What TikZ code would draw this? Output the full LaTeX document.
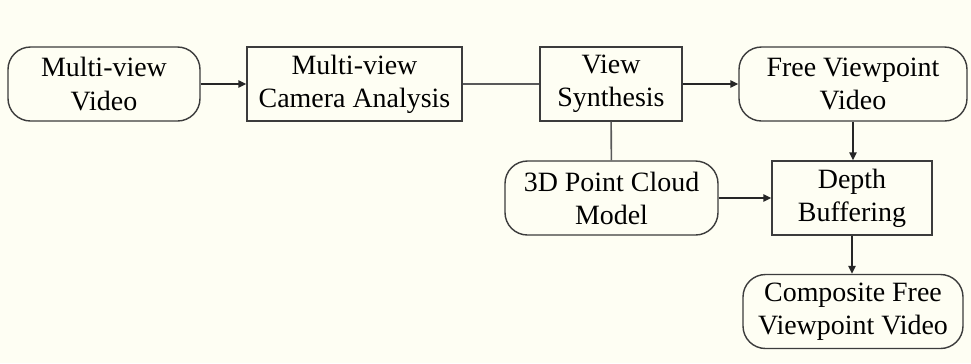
\documentclass[tikz,border=0pt]{standalone}
\usepackage{fontspec}
\setmainfont{Liberation Serif}
\usepackage{tikz}
\usetikzlibrary{arrows.meta, positioning}
\definecolor{paper}{RGB}{254,254,243}
\definecolor{edge}{RGB}{60,60,60}

\begin{document}
\begin{tikzpicture}[
    data/.style={draw=edge, fill=paper, line width=0.8pt, rounded corners=0.45cm, minimum height=1.48cm, inner sep=0pt, align=center, font=\rmfamily\fontsize{15.9}{18.8}\selectfont},
    proc/.style={draw=edge, fill=paper, line width=0.8pt, minimum height=1.48cm, inner sep=0pt, align=center, font=\rmfamily\fontsize{15.9}{18.8}\selectfont},
    arrow/.style={-{Triangle[length=1.6mm, width=1.5mm]}, line width=0.8pt, draw=black!85},
    link/.style={line width=0.9pt, draw=black!65}
]
    \fill[paper] (0,0) rectangle (19.42,-7.26);
    \useasboundingbox (0,0) rectangle (19.42,-7.26);

    \node[data, minimum width=3.84cm] at (2.08,-1.68) (video) {Multi-view\\Video};
    \node[proc, minimum width=4.30cm] at (7.09,-1.68) (camera) {Multi-view\\Camera Analysis};
    \node[proc, minimum width=2.84cm] at (12.22,-1.68) (synth) {View\\Synthesis};
    \node[data, minimum width=4.56cm] at (17.06,-1.68) (freevp) {Free Viewpoint\\Video};
    \node[data, minimum width=4.26cm] at (12.23,-3.96) (cloud) {3D Point Cloud\\Model};
    \node[proc, minimum width=3.20cm] at (17.04,-3.96) (depth) {Depth\\Buffering};
    \node[data, minimum width=4.40cm] at (17.06,-6.23) (composite) {Composite Free\\Viewpoint Video};

    \draw[arrow] (video) -- (camera);
    \draw[link] (camera) -- (synth);
    \draw[arrow] (synth) -- (freevp);
    \draw[link] (synth) -- (cloud);
    \draw[arrow] (freevp.south) -- (freevp.south |- depth.north);
    \draw[arrow] (cloud) -- (depth);
    \draw[arrow] (depth.south) -- (depth.south |- composite.north);
\end{tikzpicture}
\end{document}
